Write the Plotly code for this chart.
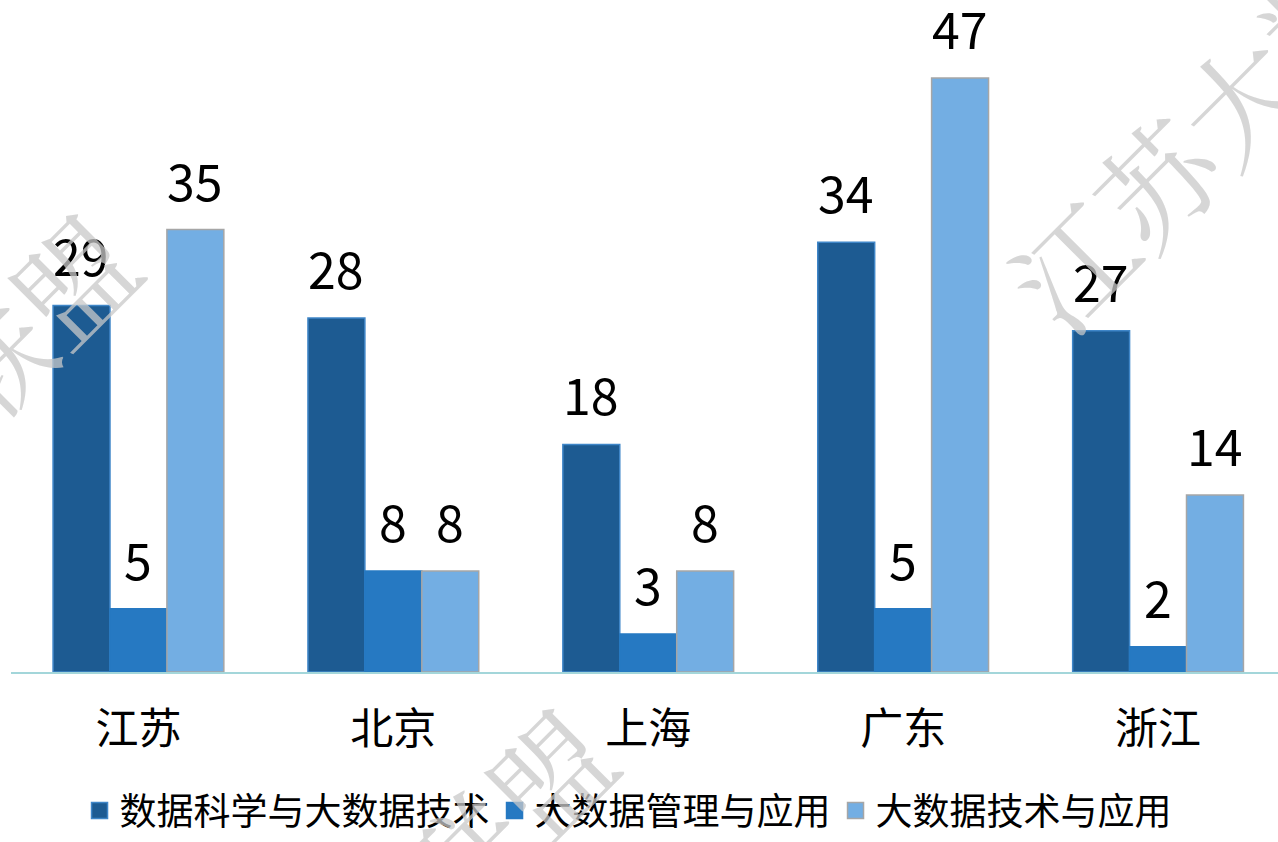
import plotly.graph_objects as go

categories = ["江苏", "北京", "上海", "广东", "浙江"]
series_names = ["数据科学与大数据技术", "大数据管理与应用", "大数据技术与应用"]
values_ds = [29, 28, 18, 34, 27]
values_mgmt = [5, 8, 3, 5, 2]
values_tech = [35, 8, 8, 47, 14]
series_values = [values_ds, values_mgmt, values_tech]

colors = ["#1D5B92", "#2679C2", "#73AEE3"]
borders = ["#3F86C8", "#2679C2", "#A6A6A6"]
FONT = "Noto Sans CJK SC, Microsoft YaHei, sans-serif"

W, H = 1278, 842
L, T, B = 10.5, 40, 170
plot_w = W - L
plot_h = H - T - B
cat_px = 255.0
x_hi = -0.5 + plot_w / cat_px

fig = go.Figure()
for k, (name, vals, c, bc) in enumerate(zip(series_names, series_values, colors, borders)):
    fig.add_trace(go.Bar(
        x=list(range(len(categories))), y=vals, name=name,
        legendgroup=f"g{k}", showlegend=False,
        marker=dict(color=c, line=dict(color=bc, width=1.5)),
    ))
# legend entries with larger square swatches
for k, (name, c, bc) in enumerate(zip(series_names, colors, borders)):
    fig.add_trace(go.Scatter(
        x=[None], y=[None], mode="markers", name=name,
        legendgroup=f"g{k}", showlegend=True, hoverinfo="skip",
        marker=dict(symbol="square", size=16, color=c, line=dict(color=bc, width=1.5)),
    ))

bar_w = cat_px * 0.67 / 3
offsets = [-bar_w, 0, bar_w]
annotations = []
for vals, off in zip(series_values, offsets):
    for i, v in enumerate(vals):
        annotations.append(dict(
            x=i, y=v, xref="x", yref="y", text=str(v), showarrow=False,
            xshift=off, yshift=13, yanchor="bottom",
            font=dict(size=50, color="#000000", family=FONT),
        ))

# watermark
wm_text = "江苏大数据联盟"
wm_centers = [(-181, 527), (296, 1021), (1321, 13)]
for px, py in wm_centers:
    annotations.append(dict(
        x=(px - L) / plot_w, y=(H - B - py) / plot_h, xref="paper", yref="paper",
        text=wm_text, showarrow=False, textangle=-45,
        xanchor="center", yanchor="middle",
        font=dict(size=118, color="rgba(200,200,200,0.75)",
                  family="Noto Serif CJK SC, Noto Sans CJK SC, serif"),
    ))

fig.update_layout(
    width=W, height=H,
    margin=dict(l=L, r=0, t=T, b=B, pad=0, autoexpand=False),
    paper_bgcolor="white", plot_bgcolor="white",
    barmode="group", bargap=0.33, bargroupgap=0,
    font=dict(family=FONT, color="#000000"),
    showlegend=True,
    legend=dict(
        orientation="h", x=0.487, xanchor="center",
        yref="container", y=0.0, yanchor="bottom",
        font=dict(size=37, family=FONT, color="#000000"),
        itemwidth=30, tracegroupgap=0,
    ),
    annotations=annotations,
)
fig.update_xaxes(
    range=[-0.5, x_hi],
    tickmode="array", tickvals=list(range(len(categories))), ticktext=categories,
    tickfont=dict(size=43, family=FONT, color="#000000"),
    showline=True, linecolor="#A3D6DA", linewidth=2,
    ticks="outside", ticklen=18, tickcolor="rgba(0,0,0,0)",
    showgrid=False, zeroline=False, fixedrange=True, automargin=False,
)
fig.update_yaxes(
    range=[0, 50], visible=False, showgrid=False, zeroline=False, fixedrange=True,
)

fig.write_html(
    "out.html",
    config={"displayModeBar": False},
    post_script="document.body.style.margin='0';document.body.style.overflow='hidden';",
)
